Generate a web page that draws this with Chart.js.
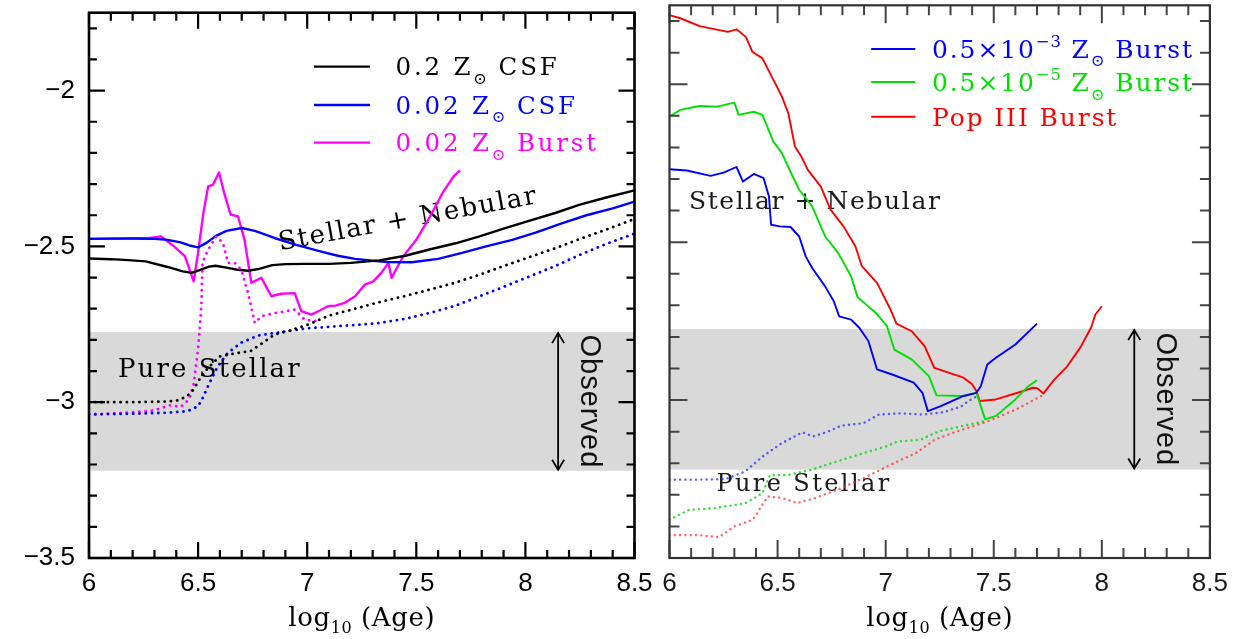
<!DOCTYPE html>
<html>
<head>
<meta charset="utf-8">
<title>Line ratio versus age</title>
<script src="https://cdn.jsdelivr.net/npm/chart.js@4.4.1/dist/chart.umd.min.js"></script>
<style>
  html, body { margin: 0; padding: 0; background: #ffffff; }
  #wrap { position: relative; width: 1238px; height: 639px; overflow: hidden; background: #ffffff; }
  #wrap canvas { position: absolute; top: 0; }
</style>
</head>
<body>
<div id="wrap">
  <canvas id="leftPanel"></canvas>
  <canvas id="rightPanel"></canvas>
</div>
<script>
// ---------------------------------------------------------------------------
// Axis ticks and the observed range
// ---------------------------------------------------------------------------
const xTickValues = [6, 6.5, 7, 7.5, 8, 8.5];
const yTickValues = [-3.5, -3, -2.5, -2];
const observedRange = [-3.22, -2.775];

// ---------------------------------------------------------------------------
// Left panel: 0.2 and 0.02 Zsun models (solid = stellar + nebular, dotted = pure stellar)
// ---------------------------------------------------------------------------
const csf02NebAge = [6.00, 6.10, 6.18, 6.26, 6.36, 6.43, 6.47, 6.51, 6.55, 6.58, 6.63, 6.68, 6.73, 6.78, 6.84, 6.90, 7.00, 7.10, 7.20, 7.33, 7.45, 7.56, 7.68, 7.79, 7.90, 8.02, 8.14, 8.25, 8.37, 8.50];
const csf02Neb    = [-2.539, -2.541, -2.544, -2.548, -2.566, -2.580, -2.585, -2.575, -2.565, -2.562, -2.568, -2.575, -2.578, -2.572, -2.560, -2.557, -2.556, -2.556, -2.553, -2.545, -2.530, -2.510, -2.490, -2.468, -2.443, -2.417, -2.392, -2.366, -2.343, -2.320];

const csf02StAge  = [6.00, 6.20, 6.35, 6.41, 6.45, 6.48, 6.50, 6.545, 6.60, 6.68, 6.74, 6.80, 6.85, 6.91, 7.00, 7.10, 7.22, 7.33, 7.45, 7.56, 7.68, 7.79, 7.90, 8.02, 8.14, 8.25, 8.37, 8.50];
const csf02St     = [-3.000, -3.000, -2.998, -2.994, -2.980, -2.959, -2.933, -2.890, -2.853, -2.842, -2.836, -2.808, -2.783, -2.772, -2.752, -2.722, -2.700, -2.679, -2.659, -2.639, -2.616, -2.591, -2.563, -2.534, -2.505, -2.476, -2.446, -2.412];

const csf002NebAge = [6.00, 6.10, 6.20, 6.30, 6.36, 6.42, 6.46, 6.50, 6.54, 6.58, 6.63, 6.70, 6.76, 6.85, 6.95, 7.06, 7.14, 7.22, 7.30, 7.37, 7.48, 7.60, 7.71, 7.82, 7.94, 8.05, 8.17, 8.28, 8.40, 8.50];
const csf002Neb    = [-2.476, -2.475, -2.475, -2.476, -2.479, -2.487, -2.497, -2.503, -2.488, -2.467, -2.450, -2.441, -2.450, -2.473, -2.495, -2.516, -2.530, -2.540, -2.546, -2.550, -2.551, -2.540, -2.521, -2.500, -2.479, -2.455, -2.425, -2.400, -2.378, -2.356];

const csf002StAge  = [6.00, 6.20, 6.35, 6.45, 6.50, 6.52, 6.553, 6.59, 6.637, 6.70, 6.775, 6.85, 6.91, 7.00, 7.10, 7.22, 7.33, 7.45, 7.56, 7.68, 7.79, 7.90, 8.02, 8.14, 8.25, 8.37, 8.50];
const csf002St     = [-3.039, -3.037, -3.034, -3.029, -3.013, -2.988, -2.937, -2.885, -2.841, -2.808, -2.786, -2.778, -2.772, -2.763, -2.758, -2.752, -2.746, -2.732, -2.714, -2.690, -2.660, -2.630, -2.596, -2.562, -2.527, -2.492, -2.459];

const burst002NebAge = [6.00, 6.10, 6.20, 6.27, 6.33, 6.39, 6.44, 6.48, 6.50, 6.523, 6.546, 6.568, 6.596, 6.62, 6.649, 6.683, 6.713, 6.744, 6.79, 6.836, 6.88, 6.943, 6.973, 7.019, 7.06, 7.095, 7.13, 7.172, 7.22, 7.264, 7.303, 7.34, 7.372, 7.387, 7.41, 7.44, 7.47, 7.50, 7.563, 7.624, 7.67, 7.70];
const burst002Neb    = [-2.476, -2.475, -2.474, -2.474, -2.468, -2.500, -2.532, -2.612, -2.520, -2.398, -2.308, -2.302, -2.263, -2.330, -2.398, -2.404, -2.479, -2.617, -2.601, -2.660, -2.652, -2.650, -2.708, -2.719, -2.705, -2.692, -2.690, -2.681, -2.660, -2.623, -2.612, -2.585, -2.553, -2.601, -2.570, -2.532, -2.505, -2.479, -2.404, -2.324, -2.276, -2.256];

const burst002StAge  = [6.00, 6.15, 6.30, 6.37, 6.42, 6.46, 6.48, 6.50, 6.507, 6.515, 6.52, 6.546, 6.584, 6.614, 6.637, 6.668, 6.698, 6.729, 6.76, 6.79, 6.85, 6.943, 6.988, 7.05];
const burst002St     = [-3.040, -3.035, -3.026, -3.010, -3.015, -2.990, -2.940, -2.830, -2.767, -2.687, -2.553, -2.510, -2.468, -2.489, -2.553, -2.553, -2.575, -2.650, -2.746, -2.724, -2.714, -2.703, -2.735, -2.740];

// ---------------------------------------------------------------------------
// Right panel: extremely metal poor and Pop III bursts
// ---------------------------------------------------------------------------
const burst5e3NebAge = [6.00, 6.08, 6.19, 6.25, 6.31, 6.34, 6.39, 6.435, 6.46, 6.47, 6.51, 6.56, 6.60, 6.63, 6.66, 6.72, 6.76, 6.785, 6.84, 6.878, 6.92, 6.96, 7.03, 7.13, 7.17, 7.195, 7.255, 7.36, 7.42, 7.44, 7.47, 7.51, 7.60, 7.70];
const burst5e3Neb    = [-2.269, -2.273, -2.290, -2.280, -2.262, -2.308, -2.284, -2.297, -2.355, -2.445, -2.450, -2.452, -2.482, -2.545, -2.582, -2.640, -2.687, -2.735, -2.745, -2.771, -2.813, -2.903, -2.919, -2.945, -2.977, -3.035, -3.019, -2.987, -2.977, -2.956, -2.887, -2.866, -2.824, -2.758];

const burst5e3StAge  = [6.00, 6.13, 6.26, 6.35, 6.43, 6.52, 6.615, 6.665, 6.725, 6.795, 6.898, 6.967, 7.07, 7.174, 7.268, 7.35, 7.38, 7.43];
const burst5e3St     = [-3.252, -3.252, -3.250, -3.226, -3.179, -3.136, -3.102, -3.115, -3.102, -3.081, -3.073, -3.046, -3.042, -3.046, -3.038, -3.020, -3.004, -2.985];

const burst5e5NebAge = [6.00, 6.05, 6.14, 6.22, 6.30, 6.32, 6.39, 6.43, 6.48, 6.52, 6.57, 6.60, 6.66, 6.72, 6.78, 6.84, 6.87, 6.955, 7.006, 7.04, 7.12, 7.20, 7.235, 7.36, 7.42, 7.435, 7.46, 7.51, 7.60, 7.66, 7.70];
const burst5e5Neb    = [-2.102, -2.081, -2.069, -2.071, -2.058, -2.097, -2.087, -2.097, -2.181, -2.218, -2.292, -2.334, -2.387, -2.482, -2.534, -2.608, -2.674, -2.724, -2.766, -2.840, -2.871, -2.924, -2.985, -2.987, -2.977, -3.008, -3.061, -3.050, -2.998, -2.956, -2.937];

const burst5e5StAge  = [6.00, 6.088, 6.21, 6.35, 6.43, 6.465, 6.55, 6.655, 6.775, 6.898, 7.00, 7.055, 7.16, 7.245, 7.35, 7.45, 7.46];
const burst5e5St     = [-3.379, -3.348, -3.342, -3.327, -3.295, -3.237, -3.237, -3.221, -3.194, -3.168, -3.147, -3.131, -3.126, -3.099, -3.083, -3.068, -3.061];

const popIIINebAge = [6.00, 6.05, 6.14, 6.27, 6.31, 6.353, 6.383, 6.43, 6.473, 6.52, 6.55, 6.58, 6.61, 6.64, 6.70, 6.745, 6.805, 6.86, 6.89, 6.96, 7.02, 7.05, 7.12, 7.18, 7.225, 7.27, 7.36, 7.40, 7.42, 7.435, 7.51, 7.633, 7.68, 7.70, 7.73, 7.78, 7.84, 7.90, 7.95, 7.97, 8.00];
const popIIINeb    = [-1.781, -1.791, -1.816, -1.834, -1.826, -1.850, -1.897, -1.918, -1.976, -2.039, -2.092, -2.197, -2.229, -2.271, -2.324, -2.397, -2.450, -2.513, -2.576, -2.629, -2.710, -2.758, -2.782, -2.829, -2.898, -2.908, -2.929, -2.950, -2.972, -3.003, -2.998, -2.972, -2.961, -2.962, -2.979, -2.935, -2.893, -2.834, -2.771, -2.729, -2.703];

const popIIIStAge  = [6.00, 6.125, 6.23, 6.30, 6.385, 6.455, 6.52, 6.59, 6.675, 6.775, 6.898, 7.037, 7.14, 7.225, 7.33, 7.47, 7.60, 7.73];
const popIIISt     = [-3.427, -3.427, -3.434, -3.400, -3.379, -3.305, -3.310, -3.326, -3.310, -3.284, -3.247, -3.200, -3.168, -3.126, -3.099, -3.068, -3.031, -2.983];

// Legend names (_{..} subscript, ^{..} superscript)
const leftNames  = ['0.2 Z_{⊙} CSF', '0.02 Z_{⊙} CSF', '0.02 Z_{⊙} Burst'];
const rightNames = ['0.5×10^{−3} Z_{⊙} Burst', '0.5×10^{−5} Z_{⊙} Burst', 'Pop III Burst'];

// ---------------------------------------------------------------------------
// Styling
// ---------------------------------------------------------------------------
const SERIF = '"DejaVu Serif", "Liberation Serif", serif';
const SANS = '"Liberation Sans", Arial, sans-serif';

const leftSeries = [
  { name: leftNames[0], color: '#000000', dotColor: '#000000', nebAge: csf02NebAge, neb: csf02Neb, stAge: csf02StAge, st: csf02St },
  { name: leftNames[1], color: '#0000ff', dotColor: '#0000ff', nebAge: csf002NebAge, neb: csf002Neb, stAge: csf002StAge, st: csf002St },
  { name: leftNames[2], color: '#ff00ff', dotColor: '#ff00ff', nebAge: burst002NebAge, neb: burst002Neb, stAge: burst002StAge, st: burst002St }
];
const rightSeries = [
  { name: rightNames[0], color: '#0000ff', dotColor: 'rgba(40,40,255,0.75)', nebAge: burst5e3NebAge, neb: burst5e3Neb, stAge: burst5e3StAge, st: burst5e3St },
  { name: rightNames[1], color: '#00e000', dotColor: 'rgba(0,215,0,0.8)', nebAge: burst5e5NebAge, neb: burst5e5Neb, stAge: burst5e5StAge, st: burst5e5St },
  { name: rightNames[2], color: '#ff0000', dotColor: 'rgba(255,40,40,0.7)', nebAge: popIIINebAge, neb: popIIINeb, stAge: popIIIStAge, st: popIIISt }
];

const panels = [
  {
    canvas: 'leftPanel', left: 0, width: 665, series: leftSeries,
    padding: { left: 0, right: 30.5, top: 12.7, bottom: 0 },
    showY: true, yWidth: 89, xHeight: 81,
    lineWidth: 2.4, dotWidth: 2.8, dash: [0.1, 6.2],
    frameColor: '#000000', frameWidth: 2.6, tickColor: '#000000', tickWidth: 2.2, major: 16, minor: 8,
    labelColor: '#000000',
    legend: { x0: 7.031, x1: 7.288, tx: 7.405, ys: [-1.923, -2.046, -2.167], size: 24.5, spacing: 2.8, lineWidth: 2.4 },
    notes: [
      { text: 'Stellar + Nebular', x: 6.875, y: -2.512, angle: -10.3, size: 26, spacing: 1.7, color: '#000000' },
      { text: 'Pure Stellar', x: 6.133, y: -2.918, angle: 0, size: 26, spacing: 2.1, color: '#000000' }
    ],
    arrowX: 8.15, observedX: 8.29
  },
  {
    canvas: 'rightPanel', left: 640, width: 598, series: rightSeries,
    padding: { left: 29.5, right: 15, top: 5.3, bottom: 0 },
    showY: false, yWidth: 0, xHeight: 81,
    lineWidth: 1.9, dotWidth: 2.4, dash: [0.1, 5.2],
    frameColor: '#333333', frameWidth: 2.2, tickColor: '#444444', tickWidth: 2, major: 18, minor: 10,
    labelColor: '#1a1a1a',
    legend: { x0: 6.933, x1: 7.137, tx: 7.214, ys: [-1.888, -1.993, -2.103], size: 25, spacing: 1.9, lineWidth: 2 },
    notes: [
      { text: 'Stellar + Nebular', x: 6.09, y: -2.394, angle: 0, size: 25, spacing: 1.6, color: '#1a1a1a' },
      { text: 'Pure Stellar', x: 6.217, y: -3.289, angle: 0, size: 24, spacing: 2.4, color: '#1a1a1a' }
    ],
    arrowX: 8.15, observedX: 8.29
  }
];

// ---------------------------------------------------------------------------
// Text helpers
// ---------------------------------------------------------------------------
function parseRich(str) {
  const out = [];
  let buf = '';
  let i = 0;
  while (i < str.length) {
    const c = str[i];
    if ((c === '_' || c === '^') && str[i + 1] === '{') {
      if (buf) { out.push({ t: buf, k: 0 }); buf = ''; }
      const end = str.indexOf('}', i);
      out.push({ t: str.slice(i + 2, end), k: c === '_' ? -1 : 1 });
      i = end + 1;
    } else {
      buf += c;
      i++;
    }
  }
  if (buf) out.push({ t: buf, k: 0 });
  return out;
}

function drawRich(ctx, str, x, y, size, family, color, spacing) {
  let cx = x;
  ctx.fillStyle = color;
  ctx.textAlign = 'left';
  ctx.textBaseline = 'alphabetic';
  for (const seg of parseRich(str)) {
    const s = seg.k === 0 ? size : size * 0.66;
    const dy = seg.k === 0 ? 0 : (seg.k < 0 ? size * 0.34 : -size * 0.45);
    ctx.font = s + 'px ' + family;
    ctx.letterSpacing = (seg.k === 0 ? spacing : spacing * 0.4) + 'px';
    ctx.fillText(seg.t, cx, y + dy);
    cx += ctx.measureText(seg.t).width;
  }
  ctx.letterSpacing = '0px';
  return cx - x;
}

function fmtTick(v) {
  const s = String(Math.abs(v));
  return v < 0 ? '\u2212' + s : s;
}

// ---------------------------------------------------------------------------
// Panel decorations: shaded band, notes, frame with inward ticks, legend, titles
// ---------------------------------------------------------------------------
const decorations = {
  id: 'panelDecor',
  beforeDatasetsDraw(chart, args, p) {
    const { ctx, chartArea: a, scales: { x, y } } = chart;
    ctx.save();
    const yTop = y.getPixelForValue(observedRange[1]);
    const yBot = y.getPixelForValue(observedRange[0]);
    ctx.fillStyle = '#d9d9d9';
    ctx.fillRect(a.left, yTop, a.right - a.left, yBot - yTop);

    for (const n of p.notes) {
      ctx.save();
      ctx.translate(x.getPixelForValue(n.x), y.getPixelForValue(n.y));
      ctx.rotate(n.angle * Math.PI / 180);
      ctx.font = n.size + 'px ' + SERIF;
      ctx.letterSpacing = n.spacing + 'px';
      ctx.fillStyle = n.color;
      ctx.textAlign = 'left';
      ctx.textBaseline = 'alphabetic';
      ctx.fillText(n.text, 0, 0);
      ctx.restore();
    }
    ctx.restore();
  },
  afterDatasetsDraw(chart, args, p) {
    const { ctx, chartArea: a, scales: { x, y } } = chart;
    ctx.save();

    // inward tick marks on all four sides
    ctx.strokeStyle = p.tickColor;
    ctx.lineWidth = p.tickWidth;
    ctx.beginPath();
    for (let k = 60; k <= 85; k++) {
      const px = x.getPixelForValue(k / 10);
      const len = (k % 5 === 0) ? p.major : p.minor;
      ctx.moveTo(px, a.bottom); ctx.lineTo(px, a.bottom - len);
      ctx.moveTo(px, a.top); ctx.lineTo(px, a.top + len);
    }
    for (let k = -35; k <= -18; k++) {
      const py = y.getPixelForValue(k / 10);
      const len = (k % 5 === 0) ? p.major : p.minor;
      ctx.moveTo(a.left, py); ctx.lineTo(a.left + len, py);
      ctx.moveTo(a.right, py); ctx.lineTo(a.right - len, py);
    }
    ctx.stroke();

    // frame
    ctx.strokeStyle = p.frameColor;
    ctx.lineWidth = p.frameWidth;
    ctx.strokeRect(a.left, a.top, a.right - a.left, a.bottom - a.top);

    // observed-range double arrow
    const ax = x.getPixelForValue(p.arrowX);
    const y1 = y.getPixelForValue(observedRange[1]) + 1;
    const y2 = y.getPixelForValue(observedRange[0]) - 1;
    ctx.strokeStyle = '#000000';
    ctx.lineWidth = 1.8;
    ctx.beginPath();
    ctx.moveTo(ax, y1); ctx.lineTo(ax, y2);
    ctx.moveTo(ax - 6, y1 + 10); ctx.lineTo(ax, y1); ctx.lineTo(ax + 6, y1 + 10);
    ctx.moveTo(ax - 6, y2 - 10); ctx.lineTo(ax, y2); ctx.lineTo(ax + 6, y2 - 10);
    ctx.stroke();

    ctx.save();
    ctx.translate(x.getPixelForValue(p.observedX), (y1 + y2) / 2);
    ctx.rotate(Math.PI / 2);
    ctx.font = '29px ' + SANS;
    ctx.letterSpacing = '1px';
    ctx.fillStyle = '#111111';
    ctx.textAlign = 'center';
    ctx.textBaseline = 'middle';
    ctx.fillText('Observed', 0, 0);
    ctx.restore();

    // legend
    const L = p.legend;
    p.series.forEach((s, i) => {
      const ly = y.getPixelForValue(L.ys[i]);
      ctx.strokeStyle = s.color;
      ctx.lineWidth = L.lineWidth;
      ctx.setLineDash([]);
      ctx.beginPath();
      ctx.moveTo(x.getPixelForValue(L.x0), ly);
      ctx.lineTo(x.getPixelForValue(L.x1), ly);
      ctx.stroke();
      drawRich(ctx, s.name, x.getPixelForValue(L.tx), ly + L.size * 0.36, L.size, SERIF, s.color, L.spacing);
    });

    // x-axis title: log10 (Age)
    const cx = (a.left + a.right) / 2;
    const base = 626;
    ctx.font = '26px ' + SERIF;
    ctx.letterSpacing = '0.6px';
    const w1 = ctx.measureText('log').width;
    const w3 = ctx.measureText(' (Age)').width;
    ctx.font = '16px ' + SERIF;
    const w2 = ctx.measureText('10').width;
    let tx = cx - (w1 + w2 + w3) / 2;
    ctx.fillStyle = '#000000';
    ctx.textAlign = 'left';
    ctx.textBaseline = 'alphabetic';
    ctx.font = '26px ' + SERIF;
    ctx.fillText('log', tx, base);
    tx += w1;
    ctx.font = '16px ' + SERIF;
    ctx.fillText('10', tx, base + 7);
    tx += w2;
    ctx.font = '26px ' + SERIF;
    ctx.fillText(' (Age)', tx, base);
    ctx.letterSpacing = '0px';
    ctx.restore();
  }
};

// ---------------------------------------------------------------------------
// Build the two panels
// ---------------------------------------------------------------------------
function buildPanel(p) {
  const canvas = document.getElementById(p.canvas);
  canvas.width = p.width;
  canvas.height = 639;
  canvas.style.width = p.width + 'px';
  canvas.style.height = '639px';
  canvas.style.left = p.left + 'px';

  const datasets = [];
  p.series.forEach(s => {
    datasets.push({
      label: s.name + ' stellar',
      data: s.stAge.map((v, i) => ({ x: v, y: s.st[i] })),
      borderColor: s.dotColor,
      borderWidth: p.dotWidth,
      borderDash: p.dash,
      borderCapStyle: 'round',
      pointRadius: 0,
      tension: 0,
      fill: false
    });
  });
  p.series.forEach(s => {
    datasets.push({
      label: s.name,
      data: s.nebAge.map((v, i) => ({ x: v, y: s.neb[i] })),
      borderColor: s.color,
      borderWidth: p.lineWidth,
      borderJoinStyle: 'round',
      pointRadius: 0,
      tension: 0,
      fill: false
    });
  });

  return new Chart(canvas, {
    type: 'line',
    data: { datasets },
    options: {
      responsive: false,
      animation: false,
      devicePixelRatio: 1,
      layout: { padding: p.padding },
      plugins: {
        legend: { display: false },
        tooltip: { enabled: false },
        panelDecor: p
      },
      scales: {
        x: {
          type: 'linear',
          min: 6,
          max: 8.5,
          afterBuildTicks: sc => { sc.ticks = xTickValues.map(v => ({ value: v })); },
          afterFit: sc => { sc.height = p.xHeight; },
          grid: { display: false, drawTicks: false },
          border: { display: false },
          ticks: {
            autoSkip: false,
            maxRotation: 0,
            padding: 10,
            color: p.labelColor,
            font: { family: SANS, size: 26 },
            callback: v => fmtTick(v)
          }
        },
        y: {
          type: 'linear',
          min: -3.5,
          max: -1.75,
          display: p.showY,
          afterBuildTicks: sc => { sc.ticks = yTickValues.map(v => ({ value: v })); },
          afterFit: sc => {
            sc.width = p.yWidth;
            // the top label sits well inside the axis, so no extra room is needed above it
            sc.paddingTop = 0;
            sc.paddingBottom = 0;
          },
          grid: { display: false, drawTicks: false },
          border: { display: false },
          ticks: {
            autoSkip: false,
            padding: 14,
            color: p.labelColor,
            font: { family: SANS, size: 26 },
            callback: v => fmtTick(v)
          }
        }
      }
    },
    plugins: [decorations]
  });
}

panels.forEach(buildPanel);
</script>
</body>
</html>
